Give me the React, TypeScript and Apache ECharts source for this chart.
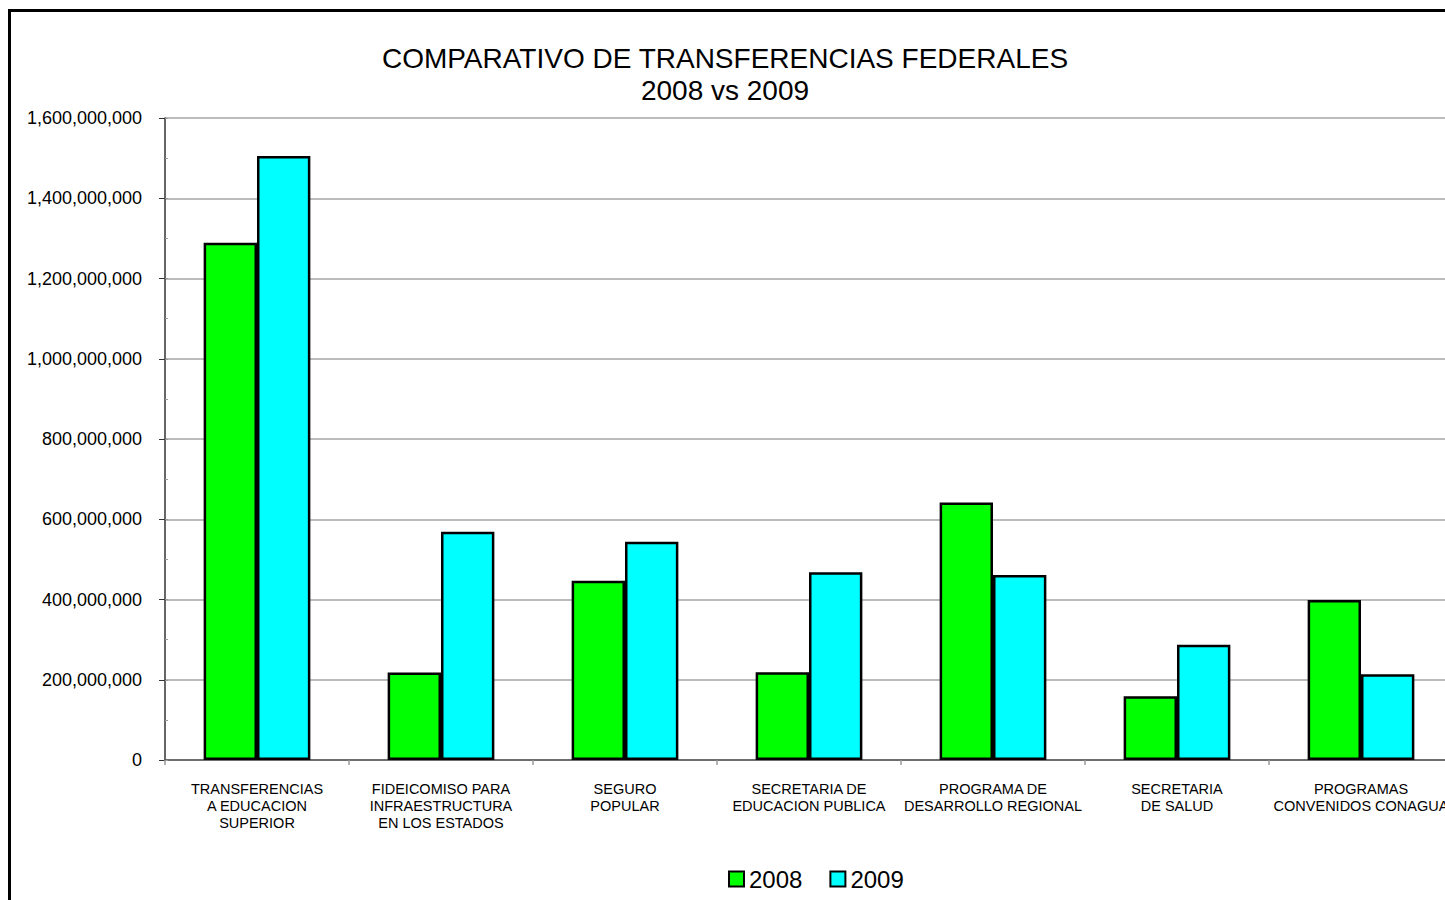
import React, { useEffect, useRef } from "react";
import * as echarts from "echarts";

const categories = [
  "TRANSFERENCIAS\nA EDUCACION\nSUPERIOR",
  "FIDEICOMISO PARA\nINFRAESTRUCTURA\nEN LOS ESTADOS",
  "SEGURO\nPOPULAR",
  "SECRETARIA DE\nEDUCACION PUBLICA",
  "PROGRAMA DE\nDESARROLLO REGIONAL",
  "SECRETARIA\nDE SALUD",
  "PROGRAMAS\nCONVENIDOS CONAGUA",
];

const values2008 = [1289000000, 218000000, 447000000, 219000000, 642000000, 159000000, 399000000];
const values2009 = [1505000000, 569000000, 544000000, 468000000, 461000000, 287000000, 214000000];

const titleLine1 = "COMPARATIVO DE TRANSFERENCIAS FEDERALES";
const titleLine2 = "2008 vs 2009";
const seriesNames = ["2008", "2009"];

const FONT = "'Liberation Sans', Arial, sans-serif";

export default function App() {
  const ref = useRef<HTMLDivElement>(null);

  useEffect(() => {
    document.documentElement.style.overflow = "hidden";
    document.body.style.margin = "8px 0 0 8px";
    if (!ref.current) return;
    const chart = echarts.init(ref.current, null, { renderer: "svg" });
    chart.setOption({
      animation: false,
      backgroundColor: "#ffffff",
      textStyle: { fontFamily: FONT },
      graphic: [
        {
          type: "text",
          x: 714,
          y: 46,
          style: {
            text: titleLine1,
            fontFamily: FONT,
            fontSize: 28,
            fill: "#000",
            textAlign: "center",
            textVerticalAlign: "middle",
          },
        },
        {
          type: "text",
          x: 714,
          y: 78,
          style: {
            text: titleLine2,
            fontFamily: FONT,
            fontSize: 28,
            fill: "#000",
            textAlign: "center",
            textVerticalAlign: "middle",
          },
        },
      ],
      legend: {
        data: seriesNames,
        left: 717,
        top: 854,
        padding: 0,
        itemWidth: 15,
        itemHeight: 15,
        itemGap: 27,
        icon: "rect",
        selectedMode: false,
        itemStyle: { borderColor: "#000", borderWidth: 2 },
        textStyle: { fontFamily: FONT, fontSize: 24, color: "#000", lineHeight: 26 },
      },
      grid: { left: 154, top: 106, width: 1288, height: 642, containLabel: false },
      xAxis: {
        type: "category",
        data: categories,
        axisLine: { lineStyle: { color: "#555", width: 1.5 } },
        axisTick: { show: true, length: 5, lineStyle: { color: "#999", width: 1.5 } },
        axisLabel: {
          interval: 0,
          margin: 20,
          fontFamily: FONT,
          fontSize: 14.5,
          lineHeight: 17,
          color: "#000",
        },
        splitLine: { show: false },
      },
      yAxis: [
        {
          type: "value",
          min: 0,
          max: 1600000000,
          interval: 200000000,
          axisLine: { show: true, lineStyle: { color: "#333", width: 1.5 } },
          axisTick: { show: true, length: 6, lineStyle: { color: "#333", width: 1 } },
          axisLabel: {
            margin: 23,
            fontFamily: FONT,
            fontSize: 18,
            color: "#000",
            formatter: (v: number) => v.toLocaleString("en-US"),
          },
          splitLine: { show: true, lineStyle: { color: "#a6a6a6", width: 1.5 } },
        },
        {
          type: "value",
          min: 0,
          max: 1600000000,
          interval: 100000000,
          position: "left",
          axisLine: { show: false },
          axisTick: { show: true, inside: true, length: 3, lineStyle: { color: "#999", width: 1 } },
          axisLabel: { show: false },
          splitLine: { show: false },
        },
      ],
      series: [
        {
          name: seriesNames[0],
          type: "bar",
          data: values2008,
          barGap: "0%",
          barCategoryGap: "42%",
          itemStyle: { color: "#00ff00", borderColor: "#000", borderWidth: 2.5 },
        },
        {
          name: seriesNames[1],
          type: "bar",
          data: values2009,
          barGap: "0%",
          barCategoryGap: "42%",
          itemStyle: { color: "#00ffff", borderColor: "#000", borderWidth: 2.5 },
        },
      ],
    });
    return () => chart.dispose();
  }, []);

  return (
    <div
      style={{
        marginTop: 1,
        width: 1500,
        height: 950,
        border: "3px solid #000",
        background: "#fff",
      }}
    >
      <div ref={ref} style={{ width: 1500, height: 950 }} />
    </div>
  );
}
